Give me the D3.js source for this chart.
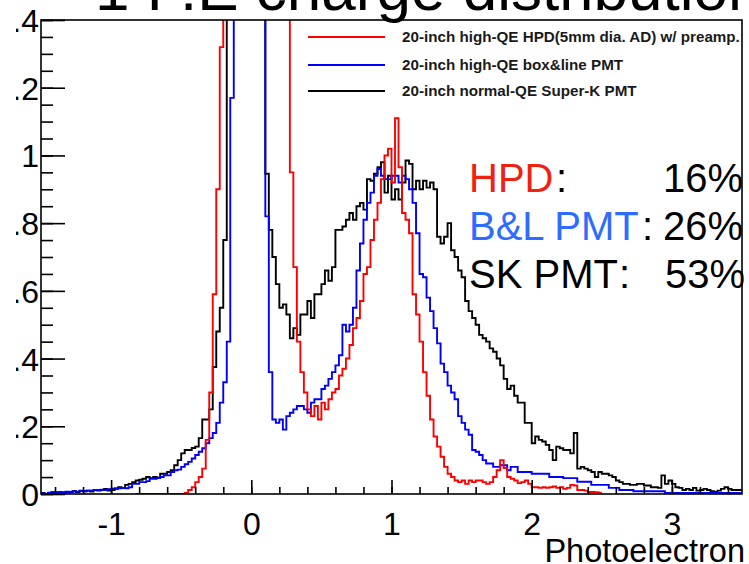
<!DOCTYPE html>
<html><head><meta charset="utf-8">
<script src="https://cdn.jsdelivr.net/npm/d3@7"></script>
<style>body{margin:0;background:#fff}svg{display:block}text{font-family:"Liberation Sans",Arial,Helvetica,sans-serif}</style>
</head><body><div id="chart"></div>
<script>
// ---- data (histograms, bin width 0.025 starting at x = -1.5) ----
const binStart = -1.5;
const binWidth = 0.025;
const OFF = 3; // off-scale pedestal bins (clipped at the frame top)

const skPMT = [
0.003,0.000,0.003,0.005,0.000,0.005,0.003,0.006,0.005,0.008,
0.006,0.010,0.008,0.010,0.007,0.012,0.010,0.012,0.015,0.010,
0.012,0.015,0.020,0.018,0.027,0.030,0.035,0.040,0.042,0.045,
0.050,0.047,0.050,0.048,0.060,0.060,0.065,0.070,0.085,0.100,
0.120,0.130,0.130,0.136,0.140,0.165,0.220,0.220,0.250,0.375,
0.480,0.550,0.750,OFF,OFF,OFF,OFF,OFF,OFF,OFF,
OFF,OFF,OFF,OFF,0.946,0.780,0.700,0.620,0.550,0.560,
0.530,0.460,0.490,0.470,0.530,0.530,0.570,0.520,0.590,0.590,
0.620,0.660,0.630,0.670,0.780,0.780,0.790,0.810,0.830,0.810,
0.850,0.860,0.840,0.930,0.925,0.946,0.965,0.980,0.890,0.940,
0.870,0.900,0.870,0.920,0.985,0.975,0.900,0.925,0.900,0.925,
0.905,0.920,0.900,0.760,0.740,0.760,0.800,0.720,0.700,0.660,
0.640,0.570,0.540,0.520,0.500,0.470,0.460,0.450,0.430,0.420,
0.400,0.380,0.340,0.310,0.320,0.290,0.270,0.270,0.210,0.210,
0.150,0.170,0.160,0.155,0.145,0.130,0.100,0.140,0.135,0.130,
0.130,0.120,0.180,0.075,0.080,0.075,0.070,0.065,0.050,0.065,
0.060,0.060,0.055,0.050,0.040,0.035,0.030,0.030,0.027,0.027,
0.030,0.030,0.025,0.025,0.020,0.020,0.018,0.055,0.030,0.040,
0.030,0.020,0.018,0.012,0.015,0.012,0.018,0.010,0.012,0.015,
0.012,0.008,0.006,0.010,0.015,0.020,0.015,0.012,0.012,0.012];

const blPMT = [
0.002,0.000,0.004,0.005,0.005,0.006,0.005,0.007,0.006,0.008,
0.007,0.009,0.008,0.010,0.010,0.012,0.012,0.013,0.012,0.014,
0.015,0.017,0.017,0.018,0.017,0.020,0.030,0.030,0.035,0.035,
0.038,0.045,0.045,0.047,0.050,0.055,0.055,0.065,0.070,0.072,
0.080,0.088,0.095,0.105,0.115,0.125,0.135,0.150,0.165,0.180,
0.210,0.270,0.330,0.450,1.170,OFF,OFF,OFF,OFF,OFF,
OFF,OFF,OFF,OFF,0.820,0.360,0.220,0.210,0.220,0.190,
0.230,0.240,0.250,0.260,0.260,0.250,0.240,0.270,0.280,0.280,
0.310,0.320,0.340,0.360,0.380,0.410,0.500,0.480,0.500,0.550,
0.660,0.740,0.810,0.860,0.890,0.940,0.960,0.940,0.930,0.930,
0.940,0.940,0.920,0.940,0.930,0.900,0.860,0.770,0.650,0.640,
0.580,0.540,0.490,0.445,0.385,0.360,0.320,0.300,0.280,0.230,
0.210,0.190,0.175,0.130,0.125,0.115,0.100,0.090,0.090,0.080,
0.080,0.085,0.085,0.070,0.080,0.080,0.065,0.065,0.065,0.065,
0.060,0.060,0.060,0.060,0.060,0.050,0.050,0.050,0.050,0.047,
0.047,0.047,0.047,0.036,0.036,0.036,0.036,0.027,0.027,0.027,
0.027,0.027,0.018,0.018,0.018,0.012,0.012,0.012,0.012,0.008,
0.008,0.008,0.008,0.008,0.008,0.008,0.008,0.008,0.003,0.003,
0.003,0.003,0.003,0.003,0.003,0.003,0.003,0.003,0.003,0.003,
0.003,0.003,0.003,0.003,0.003,0.003,0.003,0.003,0.003,0.003];

const hpdFirstBin = 27;
const hpd = [
0,0,0,0,0,0,0,0,0,0,0,0,0,0,
0.003,0.012,0.020,0.035,0.050,0.075,0.160,0.300,0.590,0.900,1.320,
OFF,OFF,OFF,OFF,OFF,OFF,OFF,OFF,OFF,OFF,OFF,OFF,OFF,OFF,OFF,OFF,OFF,OFF,OFF,
0.950,0.670,0.450,0.360,0.300,0.250,
0.230,0.260,0.220,0.270,0.250,0.280,0.300,0.310,0.350,0.370,
0.400,0.440,0.490,0.520,0.570,0.650,0.670,0.750,0.810,0.860,
0.930,1.000,1.020,0.920,1.110,0.965,0.830,0.810,0.770,0.590,
0.530,0.450,0.360,0.290,0.220,0.170,0.140,0.110,0.080,0.060,
0.050,0.040,0.035,0.040,0.030,0.040,0.035,0.040,0.040,0.035,
0.030,0.035,0.050,0.070,0.100,0.077,0.050,0.045,0.040,0.032,
0.035,0.040,0.030,0.020,0.020,0.018,0.020,0.018,0.020,0.022,
0.018,0.020,0.015,0.018,0.027,0.025,0.012,0.012,0.010,0.006,
0.006,0.005,0.004];

const seriesNames = ["20-inch high-QE HPD(5mm dia. AD) w/ preamp.", "20-inch high-QE box&line PMT", "20-inch normal-QE Super-K PMT"];
const seriesColors = ["#ff0000", "#0000ff", "#000000"];
const xTickValues = [-1, 0, 1, 2, 3];
const xTickLabels = ["-1", "0", "1", "2", "3"];
const yTickValues = [0, 0.2, 0.4, 0.6, 0.8, 1.0, 1.2, 1.4];
const yTickLabels = ["0", "0.2", "0.4", "0.6", "0.8", "1", "1.2", "1.4"];
const effLabels = ["HPD", "B&L PMT", "SK PMT"];
const effValues = ["16%", "26%", "53%"];

// ---- drawing ----
const W = 749, H = 564;
const L = 41, R = 742, T = 20, B = 494;
const svg = d3.select("#chart").append("svg").attr("width", W).attr("height", H);
const x = d3.scaleLinear().domain([-1.5, 3.5]).range([L, R]);
const y = d3.scaleLinear().domain([0, 1.4]).range([B, T]);

svg.append("text").attr("x", 95).attr("y", 10).attr("font-size", 62).attr("fill", "#000")
  .text("1 P.E charge distribution");

svg.append("clipPath").attr("id", "plotclip").append("rect")
  .attr("x", L).attr("y", T).attr("width", R - L).attr("height", B - T);

function histPoints(vals, first) {
  const pts = vals.map((v, k) => [binStart + (first + k) * binWidth, v]);
  pts.push([binStart + (first + vals.length) * binWidth, vals[vals.length - 1]]);
  return pts;
}
const line = d3.line().x(d => x(d[0])).y(d => y(d[1])).curve(d3.curveStepAfter);
const gH = svg.append("g").attr("clip-path", "url(#plotclip)");
const hists = [[skPMT, 0, seriesColors[2]], [blPMT, 0, seriesColors[1]], [hpd, hpdFirstBin, seriesColors[0]]];
hists.forEach(([vals, first, col]) => {
  gH.append("path").attr("d", line(histPoints(vals, first)))
    .attr("fill", "none").attr("stroke", col).attr("stroke-width", 1.9);
});

// axes
const xMinor = d3.range(-1.4, 3.5, 0.2).map(v => +v.toFixed(2));
svg.append("g").attr("transform", `translate(0,${B})`)
  .call(d3.axisBottom(x).tickValues(xMinor).tickSize(-7).tickFormat(""))
  .call(g => g.select(".domain").remove())
  .call(g => g.selectAll("line").attr("stroke", "#000").attr("stroke-width", 1.6));
const gx = svg.append("g").attr("transform", `translate(0,${B})`)
  .call(d3.axisBottom(x).tickValues(xTickValues).tickSize(-14).tickPadding(0)
    .tickFormat((d, i) => xTickLabels[i]))
  .call(g => g.select(".domain").remove());
gx.selectAll("line").attr("stroke", "#000").attr("stroke-width", 1.6);
gx.selectAll("text").attr("y", 41).attr("dy", 0).attr("font-size", 32).attr("fill", "#000")
  .attr("font-family", "Liberation Sans, Arial, sans-serif");

const yMinor = d3.range(0, 1.4001, 0.05).map(v => +v.toFixed(2));
svg.append("g").attr("transform", `translate(${L},0)`)
  .call(d3.axisLeft(y).tickValues(yMinor).tickSize(-12).tickFormat(""))
  .call(g => g.select(".domain").remove())
  .call(g => g.selectAll("line").attr("stroke", "#000").attr("stroke-width", 1.6));
// the reference picture is cropped just left of the labels' decimal points
svg.append("clipPath").attr("id", "ylabclip").append("rect")
  .attr("x", 16 - L).attr("y", -10).attr("width", L - 16 + 40).attr("height", H + 20);
const gy = svg.append("g").attr("transform", `translate(${L},0)`)
  .attr("clip-path", "url(#ylabclip)")
  .call(d3.axisLeft(y).tickValues(yTickValues).tickSize(-24).tickPadding(2)
    .tickFormat((d, i) => yTickLabels[i]))
  .call(g => g.select(".domain").remove());
gy.selectAll("line").attr("stroke", "#000").attr("stroke-width", 1.6);
gy.selectAll(".tick text").attr("font-size", 32).attr("fill", "#000").attr("dy", "0.36em")
  .attr("font-family", "Liberation Sans, Arial, sans-serif");

// frame
svg.append("rect").attr("x", L).attr("y", T).attr("width", R - L).attr("height", B - T)
  .attr("fill", "none").attr("stroke", "#000").attr("stroke-width", 1.6);

svg.append("text").attr("x", 745).attr("y", 562).attr("text-anchor", "end")
  .attr("font-size", 32.5).attr("fill", "#000").text("Photoelectron");

// legend
const legY = [37, 65, 91];
seriesNames.forEach((n, i) => {
  svg.append("line").attr("x1", 308).attr("x2", 385).attr("y1", legY[i]).attr("y2", legY[i])
    .attr("stroke", seriesColors[i]).attr("stroke-width", 1.9);
  svg.append("text").attr("x", 402).attr("y", legY[i] + 5).attr("font-size", 15.2)
    .attr("font-weight", "bold").attr("fill", "#1a1a1a").text(n);
});

// efficiency annotation
const effColors = ["#ee2211", "#2e6bff", "#000000"];
const effY = [192, 240, 288];
const colonX = [556, 642, 619];
effLabels.forEach((t, i) => {
  svg.append("text").attr("x", 469).attr("y", effY[i]).attr("font-size", 40)
    .attr("fill", effColors[i]).text(t);
  svg.append("text").attr("x", colonX[i]).attr("y", effY[i]).attr("font-size", 40)
    .attr("fill", "#000").text(":");
  svg.append("text").attr("x", i === 2 ? 665 : 663).attr("y", effY[i]).attr("font-size", 40)
    .attr("fill", "#000").text(effValues[i]);
});
</script></body></html>
